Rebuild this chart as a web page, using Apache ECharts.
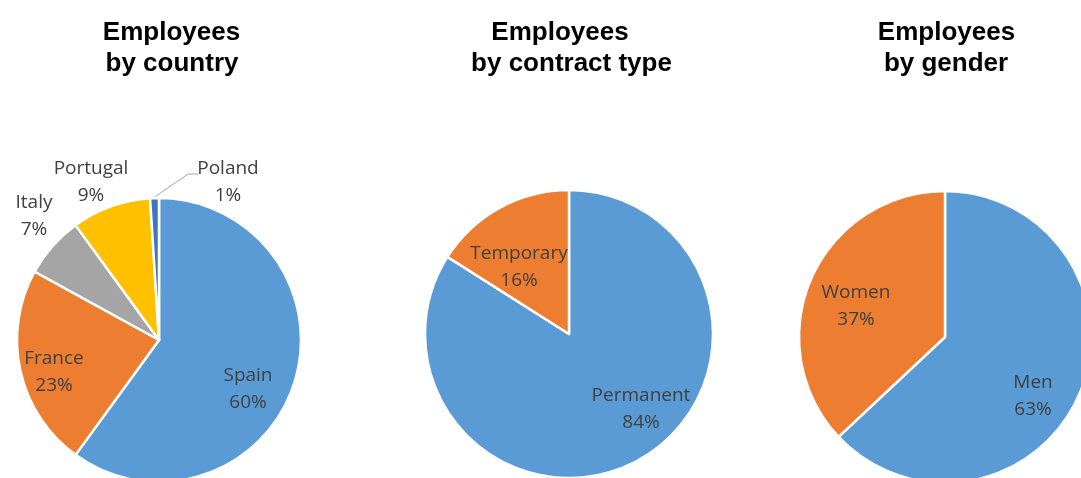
<!DOCTYPE html>
<html>
<head>
<meta charset="utf-8">
<script src="https://cdn.jsdelivr.net/npm/echarts@6/dist/echarts.min.js"></script>
<style>
  html, body { margin: 0; padding: 0; background: #ffffff; }
  #chart { width: 1081px; height: 478px; }
</style>
</head>
<body>
<div id="chart"></div>
<script>
// ---- Data ----
const countryNames = ['Spain', 'France', 'Italy', 'Portugal', 'Poland'];
const countryValues = [60, 23, 7, 9, 1];
const contractNames = ['Permanent', 'Temporary'];
const contractValues = [84, 16];
const genderNames = ['Men', 'Women'];
const genderValues = [63, 37];
const titleLine1 = ['Employees', 'Employees', 'Employees'];
const titleLine2 = ['by country', 'by contract type', 'by gender'];

// ---- Styles / layout ----
const countryColors = ['#5B9BD5', '#ED7D31', '#A5A5A5', '#FFC000', '#4472C4'];
const twoColors = ['#5B9BD5', '#ED7D31'];
const pieCenters = [[159, 340], [569, 334], [945, 337]];
const pieRadii = [142, 144, 146];
// label block centre offsets from pie centre (px)
const labelOffsets = [
  [[89, 49], [-105, 32], [-125, -124], [-68, -158], [69, -158]],
  [[72, 75], [-50, -67]],
  [[88, 59], [-89, -31]]
];
const titleCenters1 = [171.5, 560, 946.5];
const titleCenters2 = [172, 571.5, 946];

const chart = echarts.init(document.getElementById('chart'), null, { renderer: 'canvas' });

function buildData(names, values, colors, outsideIdx) {
  return names.map((n, i) => {
    const d = { name: n, value: values[i], itemStyle: { color: colors[i] } };
    if (outsideIdx != null && i === outsideIdx) {
      d.label = { position: 'outside' };
      d.labelLine = { show: true, length: 10, length2: 10, lineStyle: { color: '#A6A6A6', width: 1 } };
    }
    return d;
  });
}

const labelStyle = {
  show: true,
  position: 'inside',
  color: '#404040',
  fontFamily: 'Open Sans',
  fontSize: 19,
  lineHeight: 27,
  formatter: p => p.name + '\n' + Math.round(p.percent) + '%'
};

// mid angle (clockwise from 12 o'clock, degrees) of a slice
function midAngle(values, idx) {
  const total = values.reduce((a, b) => a + b, 0);
  let before = 0;
  for (let i = 0; i < idx; i++) before += values[i];
  return (before + values[idx] / 2) / total * 360;
}
const seriesValues = [countryValues, contractValues, genderValues];

function makeSeries(idx, data) {
  return {
    type: 'pie',
    center: pieCenters[idx],
    radius: pieRadii[idx],
    startAngle: 90,
    clockwise: true,
    avoidLabelOverlap: false,
    animation: false,
    silent: true,
    itemStyle: { borderColor: '#ffffff', borderWidth: 2.5 },
    label: labelStyle,
    labelLine: { show: false },
    labelLayout: function (params) {
      const s = params.seriesIndex, di = params.dataIndex;
      const c = pieCenters[s];
      const off = labelOffsets[s][di];
      const lx = c[0] + off[0], ly = c[1] + off[1];
      const res = { x: lx, y: ly, align: 'center', verticalAlign: 'middle' };
      if (s === 0 && di === 4) {
        const a = midAngle(seriesValues[s], di) * Math.PI / 180;
        const r = pieRadii[s];
        const sx = c[0] + r * Math.sin(a), sy = c[1] - r * Math.cos(a) - 1;
        const left = lx - params.labelRect.width / 2 + 1;
        const yy = ly - 8;
        res.labelLinePoints = [[sx, sy], [left - 10, yy], [left, yy]];
      }
      return res;
    },
    data: data
  };
}

const titleFont = { fontFamily: 'Liberation Sans', fontWeight: 'bold', fontSize: 26, color: '#000000' };
const titles = [];
for (let i = 0; i < 3; i++) {
  titles.push({ text: titleLine1[i], left: titleCenters1[i], top: 20, textAlign: 'center', padding: 0, textStyle: titleFont });
  titles.push({ text: titleLine2[i], left: titleCenters2[i], top: 50.5, textAlign: 'center', padding: 0, textStyle: titleFont });
}

chart.setOption({
  backgroundColor: '#ffffff',
  animation: false,
  title: titles,
  series: [
    makeSeries(0, buildData(countryNames, countryValues, countryColors, 4)),
    makeSeries(1, buildData(contractNames, contractValues, twoColors)),
    makeSeries(2, buildData(genderNames, genderValues, twoColors))
  ]
});
</script>
</body>
</html>
